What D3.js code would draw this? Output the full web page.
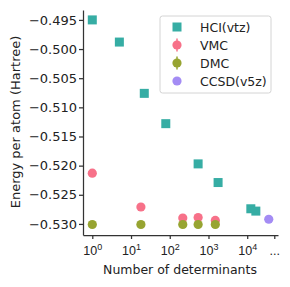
<!DOCTYPE html>
<html>
<head>
<meta charset="utf-8">
<script src="https://cdn.jsdelivr.net/npm/d3@7"></script>
<style>
  body { margin: 0; background: #fff; }
  svg { display: block; font-family: "DejaVu Sans", sans-serif; }
</style>
</head>
<body>
<svg id="chart" width="290" height="287"></svg>
<script>
// series values (x = number of determinants, y = Hartree)
var hciN   = [1, 5, 22, 79, 540, 1770, 12400, 16700];
var hciE   = [-0.4950, -0.4988, -0.5076, -0.5128, -0.5197, -0.5229, -0.5274, -0.5278];
var vmcN   = [1, 18, 217, 540, 1500];
var vmcE   = [-0.5213, -0.5271, -0.5290, -0.5289, -0.5294];
var dmcN   = [1, 18, 217, 540, 1500];
var dmcE   = [-0.5301, -0.5301, -0.5301, -0.5301, -0.5301];
var ccsdN  = [36000];
var ccsdE  = [-0.5292];

var xTicks      = [1, 10, 100, 1000, 10000, 50000];
var xTickLabels = ['0', '1', '2', '3', '4', '...'];
var yTicks      = [-0.495, -0.500, -0.505, -0.510, -0.515, -0.520, -0.525, -0.530];
var seriesNames = ['HCI(vtz)', 'VMC', 'DMC', 'CCSD(v5z)'];
var colors      = ['#36ada4', '#f77189', '#97a431', '#a48cf4'];

var svg = d3.select('#chart');
var axisColor = '#333';

var x = d3.scaleLog()
  .domain([Math.pow(10, -0.24), Math.pow(10, 4.795)])
  .range([83, 278]);

var y = d3.scaleLinear()
  .domain([-0.5319, -0.4933])
  .range([235, 10]);

// y axis
var yAxis = svg.append('g')
  .attr('transform', 'translate(83,0)')
  .call(d3.axisLeft(y).tickValues(yTicks).tickSize(4).tickSizeOuter(0).tickPadding(2)
    .tickFormat(function(d){ return d3.format('.3f')(d).replace('-', '\u2212'); }));

// x axis
var xAxis = svg.append('g')
  .attr('transform', 'translate(0,235)')
  .call(d3.axisBottom(x).tickValues(xTicks).tickSize(4).tickSizeOuter(0).tickFormat(''));

[yAxis, xAxis].forEach(function(g){
  g.select('.domain').attr('stroke', axisColor).attr('stroke-width', 1.25);
  g.selectAll('.tick line').attr('stroke', axisColor).attr('stroke-width', 1.25);
});
yAxis.selectAll('.tick text').attr('font-size', 13).attr('fill', '#222')
  .attr('font-family', '"DejaVu Sans", sans-serif');

// x tick labels as 10 with superscript
var xl = xAxis.selectAll('.tick').append('text')
  .attr('y', 20)
  .attr('text-anchor', 'middle')
  .attr('fill', '#222')
  .attr('font-size', 12.5);
xl.each(function(d, i){
  var t = d3.select(this);
  if (xTickLabels[i] === '...') {
    t.text('...');
    return;
  }
  t.append('tspan').text('10');
  t.append('tspan').attr('dy', -5).attr('font-size', 9).text(xTickLabels[i]);
});

// axis titles
svg.append('text')
  .attr('x', 180).attr('y', 274)
  .attr('text-anchor', 'middle')
  .attr('font-size', 12.5).attr('fill', '#222')
  .text('Number of determinants');

svg.append('text')
  .attr('transform', 'translate(19.5,122) rotate(-90)')
  .attr('text-anchor', 'middle')
  .attr('font-size', 13).attr('fill', '#222')
  .text('Energy per atom (Hartree)');

// points
function pts(ns, es) {
  return ns.map(function(n, i){ return {n: n, e: es[i]}; });
}

svg.append('g').selectAll('rect')
  .data(pts(hciN, hciE)).enter()
  .append('rect')
  .attr('x', function(d){ return x(d.n) - 4.5; })
  .attr('y', function(d){ return y(d.e) - 4.5; })
  .attr('width', 9).attr('height', 9)
  .attr('fill', colors[0]);

var circleSets = [pts(vmcN, vmcE), pts(dmcN, dmcE), pts(ccsdN, ccsdE)];
circleSets.forEach(function(set, k){
  svg.append('g').selectAll('circle')
    .data(set).enter()
    .append('circle')
    .attr('cx', function(d){ return x(d.n); })
    .attr('cy', function(d){ return y(d.e); })
    .attr('r', 4.6)
    .attr('fill', colors[k + 1]);
});

// legend
var legend = svg.append('g').attr('transform', 'translate(160,16)');
legend.append('rect')
  .attr('width', 111).attr('height', 77)
  .attr('rx', 2.5)
  .attr('fill', 'rgba(255,255,255,0.8)')
  .attr('stroke', '#d4d4d4').attr('stroke-width', 1);

var rows = legend.selectAll('g.row')
  .data(seriesNames).enter()
  .append('g')
  .attr('transform', function(d, i){ return 'translate(17,' + (11 + i * 18) + ')'; });

rows.each(function(d, i){
  var g = d3.select(this);
  if (i === 0) {
    g.append('rect').attr('x', -4.5).attr('y', -4.5).attr('width', 9).attr('height', 9).attr('fill', colors[i]);
  } else {
    if (i < 3) {
      g.append('line').attr('y1', -6.5).attr('y2', 6.5).attr('stroke', colors[i]).attr('stroke-width', 1.5);
    }
    g.append('circle').attr('r', 4.6).attr('fill', colors[i]);
  }
  g.append('text')
    .attr('x', 23).attr('y', 4.5)
    .attr('font-size', 12.5).attr('fill', '#222')
    .text(d);
});
</script>
</body>
</html>
